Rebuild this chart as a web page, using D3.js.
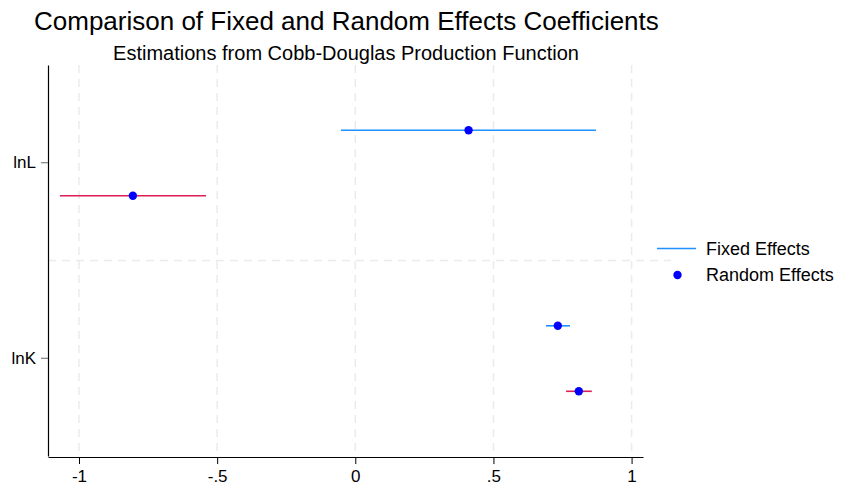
<!DOCTYPE html>
<html><head><meta charset="utf-8">
<script src="https://cdn.jsdelivr.net/npm/d3@7"></script>
<style>body{margin:0;background:#fff;} text{font-family:Arial,"Liberation Sans",sans-serif;}</style>
</head><body>
<svg id="c" width="843" height="488"></svg>
<script>
const categories = ["lnL", "lnK"];
const series = ["Fixed Effects", "Random Effects"];
const fixedEst = [0.410, 0.733];
const fixedLo = [-0.052, 0.690];
const fixedHi = [0.871, 0.777];
const randomEst = [-0.805, 0.809];
const randomLo = [-1.069, 0.763];
const randomHi = [-0.540, 0.856];
const xTicks = [-1, -0.5, 0, 0.5, 1];
const xTickLabels = ["-1", "-.5", "0", ".5", "1"];

const svg = d3.select("#c");
const L = 48, R = 643, T = 65, B = 457;
const x = d3.scaleLinear().domain([-1.1122, 1.0413]).range([L, R]);
const y = d3.scaleBand().domain(categories).range([T, 456]);
const offset = d3.scalePoint().domain(series).range([-0.166, 0.169]);

// grid
svg.append("g").selectAll("line").data(xTicks).join("line")
  .attr("x1", d => x(d)).attr("x2", d => x(d)).attr("y1", T).attr("y2", B)
  .attr("stroke", "#ebebeb").attr("stroke-width", 1.5).attr("stroke-dasharray", "8,6");
svg.append("line").attr("x1", L).attr("x2", R + 28).attr("y1", y("lnK")).attr("y2", y("lnK"))
  .attr("stroke", "#ebebeb").attr("stroke-width", 1.5).attr("stroke-dasharray", "8,6");

const data = categories.map((c, i) => [
  {cat: c, s: series[0], est: fixedEst[i], lo: fixedLo[i], hi: fixedHi[i], color: "#1E90FF"},
  {cat: c, s: series[1], est: randomEst[i], lo: randomLo[i], hi: randomHi[i], color: "#DC1F55"}
]).flat();
const yPos = d => y(d.cat) + y.bandwidth() / 2 + offset(d.s) * y.bandwidth();

svg.append("g").selectAll("line").data(data).join("line")
  .attr("x1", d => x(d.lo)).attr("x2", d => x(d.hi))
  .attr("y1", yPos).attr("y2", yPos)
  .attr("stroke", d => d.color).attr("stroke-width", 1.6);
svg.append("g").selectAll("circle").data(data).join("circle")
  .attr("cx", d => x(d.est)).attr("cy", yPos).attr("r", 4.2).attr("fill", "#0000FF");

// axes
const xAxis = svg.append("g").attr("transform", `translate(0,${B})`)
  .call(d3.axisBottom(x).tickValues(xTicks).tickFormat((d, i) => xTickLabels[i]).tickSize(7).tickSizeOuter(0).tickPadding(6));
xAxis.attr("font-size", null).attr("font-family", null);
xAxis.select(".domain").attr("stroke", "#000").attr("stroke-width", 1.2);
xAxis.selectAll(".tick line").attr("stroke", "#000");
xAxis.selectAll("text").style("font-size", "17px").attr("fill", "#000");

const yAxis = svg.append("g").attr("transform", `translate(${L},0)`)
  .call(d3.axisLeft(y).tickSize(7).tickSizeOuter(0).tickPadding(5));
yAxis.attr("font-size", null).attr("font-family", null);
yAxis.select(".domain").attr("stroke", "#000").attr("stroke-width", 1.2);
yAxis.selectAll(".tick line").attr("stroke", "#666");
yAxis.selectAll("text").style("font-size", "17px").attr("fill", "#000");

// titles
svg.append("text").attr("x", 34).attr("y", 30).style("font-size", "26px").attr("fill", "#000")
  .text("Comparison of Fixed and Random Effects Coefficients");
svg.append("text").attr("x", 346).attr("y", 60).attr("text-anchor", "middle").style("font-size", "20px").attr("fill", "#000")
  .text("Estimations from Cobb-Douglas Production Function");

// legend
const lg = svg.append("g");
lg.append("line").attr("x1", 657).attr("x2", 696).attr("y1", 248.5).attr("y2", 248.5).attr("stroke", "#1E90FF").attr("stroke-width", 1.5);
lg.append("circle").attr("cx", 677.5).attr("cy", 275).attr("r", 4.2).attr("fill", "#0000FF");
lg.append("text").attr("x", 706).attr("y", 254.5).style("font-size", "18px").text(series[0]);
lg.append("text").attr("x", 706).attr("y", 281).style("font-size", "18px").text(series[1]);
</script>
</body></html>
